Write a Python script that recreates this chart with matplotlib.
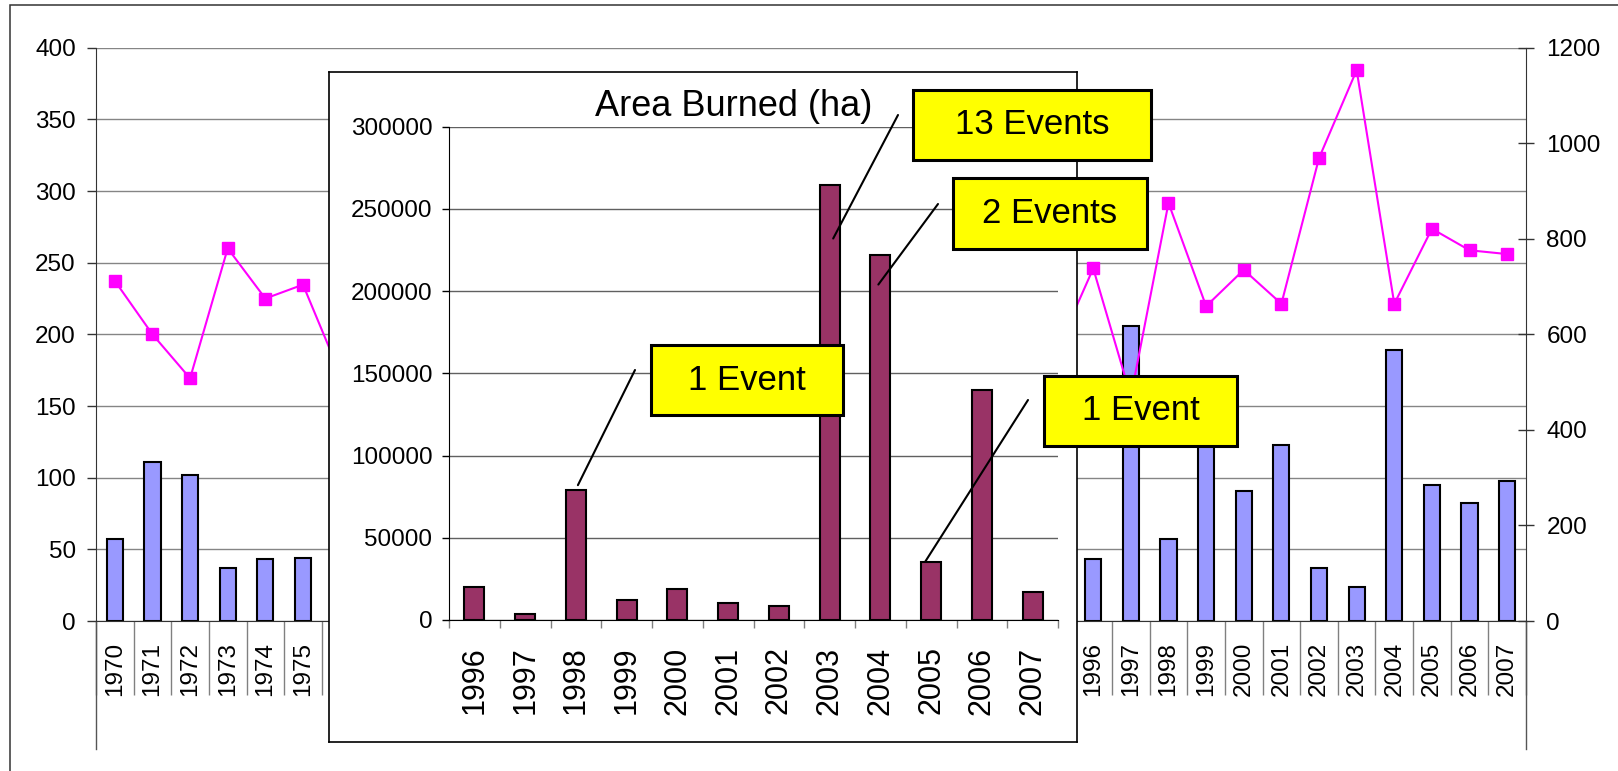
import numpy as np
import matplotlib
matplotlib.use('Agg')
import matplotlib.pyplot as plt
from matplotlib import font_manager
from matplotlib.patches import Rectangle
from matplotlib.lines import Line2D

# ---------------- data ----------------
years = list(range(1970, 2008))
# left axis bars (values for 1976-1995 are hidden behind the inset)
fires = [57, 111, 102, 37, 43, 44] + [np.nan] * 20 + \
        [43, 206, 57, 140, 91, 123, 37, 24, 189, 95, 82.5, 98]
# right axis line
line_vals = [712, 600, 508, 780, 675, 704, 515] + [np.nan] * 18 + \
            [560, 738, 470, 875, 659, 735, 664, 969, 1153, 664, 821, 776, 768]
# years whose labels are covered by the inset
hidden_years = list(range(1976, 1996))

inset_years = list(range(1996, 2008))
area_burned = [20000, 3600, 78800, 11900, 18600, 10300, 8700,
               264700, 221800, 35200, 140100, 17000]
inset_title = "Area Burned (ha)"

ann_labels = ["13 Events", "2 Events", "1 Event", "1 Event"]
ann_years = [2003, 2004, 1998, 2005]
ann_values = [232000, 204000, 82000, 35300]

# ---------------- fonts ----------------
names = {f.name for f in font_manager.fontManager.ttflist}
BASE = 'Liberation Sans' if 'Liberation Sans' in names else 'DejaVu Sans'
NARROW = 'Liberation Sans Narrow' if 'Liberation Sans Narrow' in names else None
plt.rcParams['font.family'] = [BASE, 'DejaVu Sans']

W, H = 1618, 771
fig = plt.figure(figsize=(W / 100, H / 100), dpi=100)
fig.patch.set_facecolor('white')


def fx(px):
    return px / W


def fy(py):
    return 1 - py / H


# outer border (left & top visible)
fig.add_artist(Rectangle((fx(10), -0.05), 1.2, fy(5.5) + 0.05, transform=fig.transFigure,
                         fill=False, ec='#333333', lw=1.1, zorder=0))

# ---------------- main axes ----------------
ax = fig.add_axes([fx(96), fy(621), fx(1526) - fx(96), fy(47.7) - fy(621)])
x = np.arange(len(years))
fires_arr = np.array(fires, dtype=float)
m = ~np.isnan(fires_arr)
ax.bar(x[m], fires_arr[m], width=0.43, color='#9999FF', edgecolor='black',
       linewidth=1.5, zorder=2)
ax.set_xlim(-0.5, len(years) - 0.5)
ax.set_ylim(0, 400)
ax.set_yticks(np.arange(0, 401, 50))
ax.yaxis.grid(True, color='#858585', lw=1.0)
ax.set_axisbelow(True)
ax.set_xticks(x)
ax.set_xticklabels(['' if y in hidden_years else str(y) for y in years],
                   rotation=90, fontsize=17.5)
ax.tick_params(axis='x', which='major', length=0, pad=15)
ax.set_xticks(np.arange(-0.5, len(years)), minor=True)
ax.tick_params(axis='x', which='minor', length=53, color='#808080', width=1)
ax.tick_params(axis='y', direction='out', length=6.5, width=1, labelsize=17.5,
               pad=8, color='#333333')
for s in ['top', 'right']:
    ax.spines[s].set_visible(False)
ax.spines['left'].set_color('#333333')
ax.spines['bottom'].set_color('#333333')
ext = (749 - 621) / (621 - 47.7)
for xx in (0, 1):
    ax.add_line(Line2D([xx, xx], [0, -ext], transform=ax.transAxes, color='#555555',
                       lw=1.0, clip_on=False))

ax2 = ax.twinx()
ax2.plot(x, line_vals, color='#FF00FF', lw=1.5, marker='s', ms=8,
         mec='#FF00FF', mfc='#FF00FF', zorder=3)
ax2.set_ylim(0, 1200)
ax2.set_yticks(np.arange(0, 1201, 200))
ax2.tick_params(axis='y', direction='inout', length=11.5, width=1, labelsize=17.5,
                pad=9, color='#333333')
for s in ['top', 'left', 'bottom']:
    ax2.spines[s].set_visible(False)
ax2.spines['right'].set_color('#333333')

# ---------------- inset ----------------
frame = fig.add_axes([fx(329), fy(741.5), fx(1077) - fx(329), fy(72) - fy(741.5)], zorder=5)
frame.set_xticks([])
frame.set_yticks([])
for s in frame.spines.values():
    s.set_color('black')
    s.set_linewidth(1.2)

ins = fig.add_axes([fx(449), fy(620), fx(1058) - fx(449), fy(126.7) - fy(620)], zorder=6)
ins.patch.set_alpha(0)
ix = np.arange(len(inset_years))
ins.bar(ix, area_burned, width=0.39, color='#993366', edgecolor='black', linewidth=1.5,
        zorder=2)
ins.set_xlim(-0.5, len(inset_years) - 0.5)
ins.set_ylim(0, 300000)
ins.set_yticks(np.arange(0, 300001, 50000))
ins.yaxis.grid(True, color='#606060', lw=1.0)
ins.set_axisbelow(True)
ins.set_yticklabels([str(v) for v in range(0, 300001, 50000)],
                    fontsize=21 if NARROW else 17.5,
                    family=[NARROW if NARROW else BASE, 'DejaVu Sans'])
ins.tick_params(axis='y', direction='out', length=5, width=1, pad=7, color='black')
ins.set_xticks(ix)
ins.set_xticklabels([str(y) for y in inset_years], rotation=90, fontsize=22)
ins.tick_params(axis='x', which='major', length=0, pad=19)
ins.set_xticks(np.arange(-0.5, len(inset_years)), minor=True)
ins.tick_params(axis='x', which='minor', length=6, color='#808080', width=1)
for s in ['top', 'right']:
    ins.spines[s].set_visible(False)

fig.text(fx(733.5), fy(106), inset_title, fontsize=26, ha='center', va='center', zorder=8)

# annotation boxes & leader lines
box_px = [(913, 90, 1151, 160), (953, 178, 1147, 249), (651, 345, 843, 415), (1044, 376, 1237, 446)]
line_start_px = [(898, 115), (938, 204), (635, 370), (1028, 400)]
anchor_dx = [0.07, -0.04, 0.04, -0.12]
for lab, yr, val, (x0, y0, x1, y1), (sx, sy), dx in zip(ann_labels, ann_years, ann_values,
                                                        box_px, line_start_px, anchor_dx):
    idx = inset_years.index(yr)
    ins.annotate('', xy=(idx + dx, val), xycoords='data',
                 xytext=(fx(sx), fy(sy)), textcoords='figure fraction',
                 arrowprops=dict(arrowstyle='-', color='black', lw=1.5,
                                 shrinkA=0, shrinkB=0), zorder=4, annotation_clip=False)
    fig.add_artist(Rectangle((fx(x0), fy(y1)), fx(x1) - fx(x0), fy(y0) - fy(y1),
                             transform=fig.transFigure, fc='#FFFF00', ec='black',
                             lw=2.2, zorder=10))
    fig.text(fx((x0 + x1) / 2), fy((y0 + y1) / 2), lab, fontsize=25, ha='center',
             va='center', zorder=11)

fig.savefig('out.png', dpi=100, facecolor='white')
